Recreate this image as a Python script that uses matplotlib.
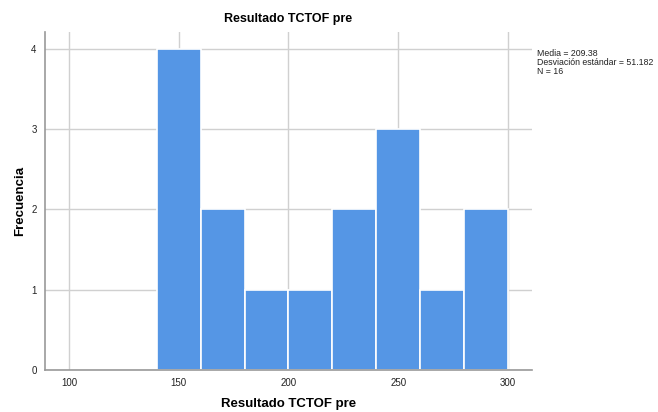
import matplotlib
matplotlib.use("Agg")
import matplotlib.pyplot as plt
import numpy as np

# histogram bins (edges) and counts
bin_edges = [140, 160, 180, 200, 220, 240, 260, 280, 300]
counts = [4, 2, 1, 1, 2, 3, 1, 2]
x_ticks = [100, 150, 200, 250, 300]
y_ticks = [0, 1, 2, 3, 4]
stats_text = "Media = 209.38\nDesviación estándar = 51.182\nN = 16"

plt.rcParams['font.family'] = ['Liberation Sans', 'DejaVu Sans']

fig = plt.figure(figsize=(6.58, 4.12), dpi=100)
ax = fig.add_axes([0.0684, 0.102, 0.740, 0.820])

edges = np.array(bin_edges)
ax.bar(edges[:-1], counts, width=np.diff(edges), align='edge',
       color='#5596e5', edgecolor='white', linewidth=1.2, zorder=3)

ax.set_xlim(89, 311)
ax.set_ylim(0, 4.21)
ax.set_xticks(x_ticks)
ax.set_yticks(y_ticks)
ax.grid(True, color='#d0d0d0', linewidth=1, zorder=0)
ax.tick_params(length=0, labelsize=7, colors='#222222', pad=6)

for s in ['top', 'right']:
    ax.spines[s].set_visible(False)
for s in ['left', 'bottom']:
    ax.spines[s].set_color('#999999')
    ax.spines[s].set_linewidth(1.2)
    ax.spines[s].set_zorder(4)

ax.set_title("Resultado TCTOF pre", fontsize=9, fontweight='bold', pad=7)
ax.set_xlabel("Resultado TCTOF pre", fontsize=9.5, fontweight='bold', labelpad=7)
ax.set_ylabel("Frecuencia", fontsize=9.5, fontweight='bold', labelpad=4)

fig.text(537/658, 1 - 49/412, stats_text, fontsize=6.3, va='top', ha='left',
         linespacing=1.0, color='#222222')

fig.savefig("out.png", dpi=100)
